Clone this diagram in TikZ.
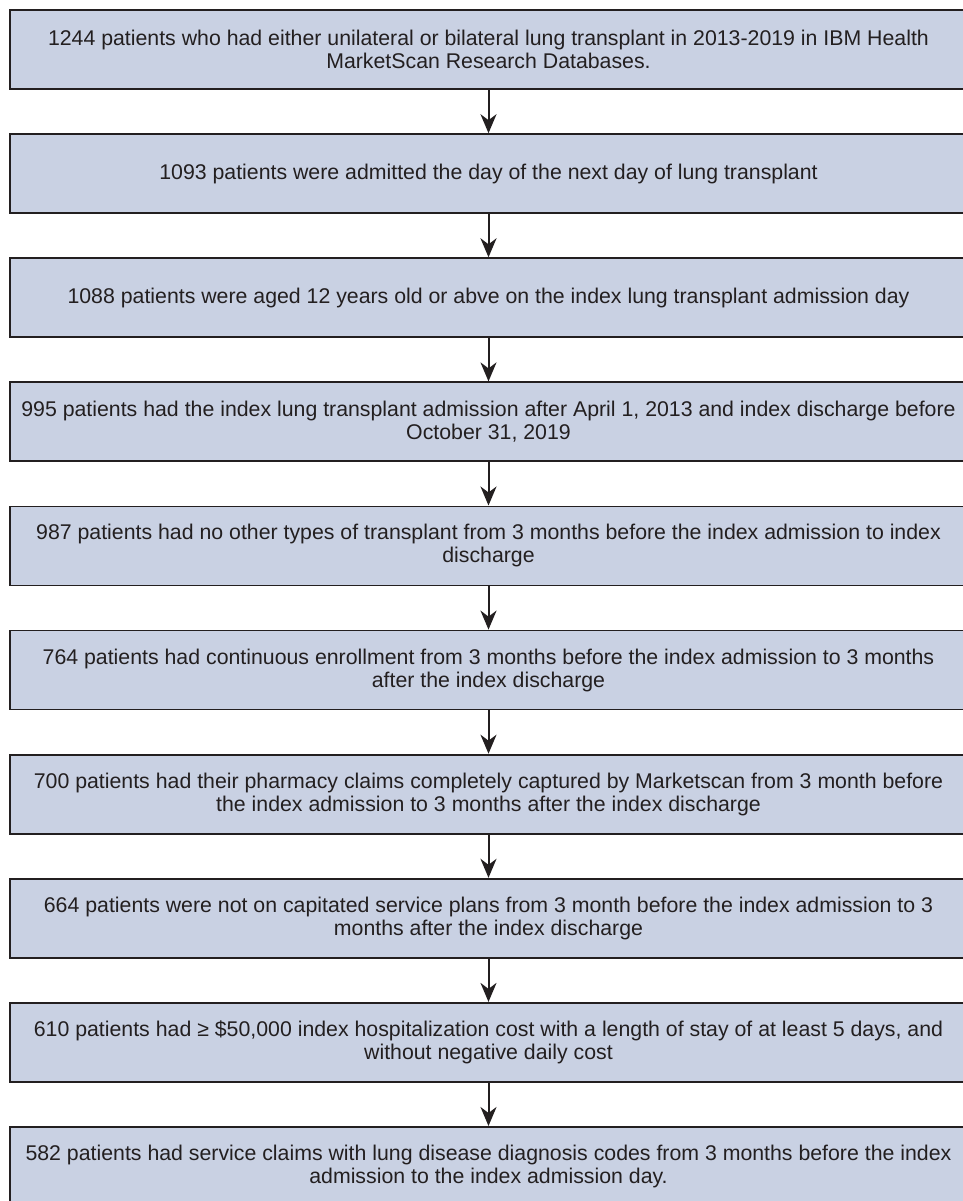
\documentclass[tikz,border=0pt]{standalone}
\usepackage{fontspec}
\setmainfont{Liberation Sans}
\usetikzlibrary{arrows.meta}
\definecolor{boxfill}{HTML}{C9D1E3}
\definecolor{ink}{HTML}{231F20}
\begin{document}
\begin{tikzpicture}[x=1pt,y=1pt,
  stepbox/.style={draw=ink, line width=1.8pt, fill=boxfill, text=ink,
    minimum width=957pt, minimum height=79pt, inner sep=0pt,
    align=center, font=\fontsize{21.3}{23}\selectfont},
  flow/.style={draw=ink, line width=2pt, -{Stealth[length=19pt,width=16pt,inset=6pt]}}]
\useasboundingbox (0,0) rectangle (962,-1201);
\fill[white] (0,0) rectangle (962,-1201);
\node[stepbox] (b1) at (488.5,-49.5) {1244 patients who had either unilateral or bilateral lung transplant in 2013-2019 in IBM Health\\MarketScan Research Databases.};
\node[stepbox] (b2) at (488.5,-173.6) {1093 patients were admitted the day of the next day of lung transplant};
\node[stepbox] (b3) at (488.5,-297.7) {1088 patients were aged 12 years old or abve on the index lung transplant admission day};
\node[stepbox] (b4) at (488.5,-421.8) {995 patients had the index lung transplant admission after April 1, 2013 and index discharge before\\October 31, 2019};
\node[stepbox] (b5) at (488.5,-545.9) {987 patients had no other types of transplant from 3 months before the index admission to index\\discharge};
\node[stepbox] (b6) at (488.5,-670.0) {764 patients had continuous enrollment from 3 months before the index admission to 3 months\\after the index discharge};
\node[stepbox] (b7) at (488.5,-794.1) {700 patients had their pharmacy claims completely captured by Marketscan from 3 month before\\the index admission to 3 months after the index discharge};
\node[stepbox] (b8) at (488.5,-918.2) {664 patients were not on capitated service plans from 3 month before the index admission to 3\\months after the index discharge};
\node[stepbox] (b9) at (488.5,-1042.3) {610 patients had ≥ \$50,000 index hospitalization cost with a length of stay of at least 5 days, and\\without negative daily cost};
\node[stepbox] (b10) at (488.5,-1166.4) {582 patients had service claims with lung disease diagnosis codes from 3 months before the index\\admission to the index admission day.};
\foreach \a/\b in {b1/b2,b2/b3,b3/b4,b4/b5,b5/b6,b6/b7,b7/b8,b8/b9,b9/b10}
  \draw[flow] (\a.south) -- (\b.north);
\end{tikzpicture}
\end{document}
